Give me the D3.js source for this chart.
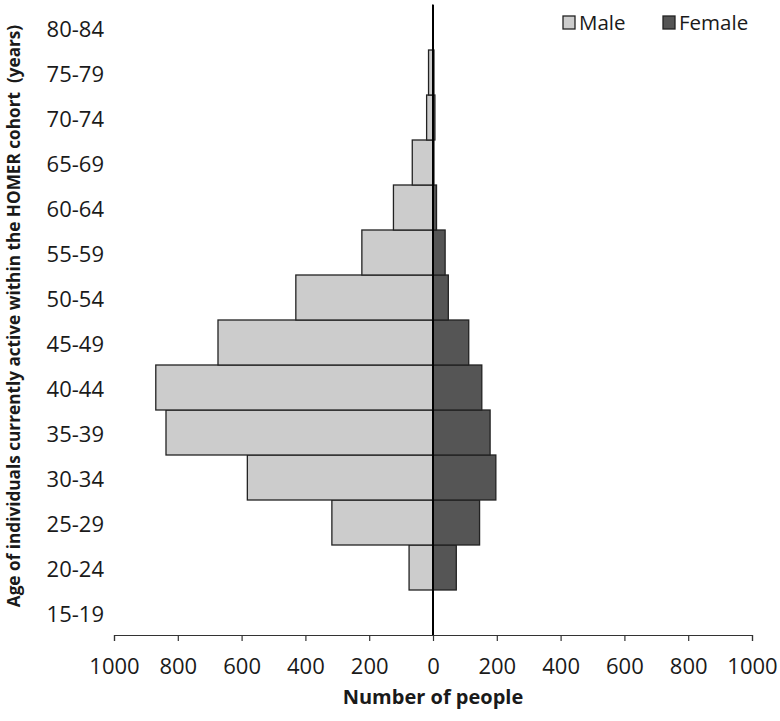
<!DOCTYPE html>
<html><head><meta charset="utf-8">
<script src="https://cdn.jsdelivr.net/npm/d3@7"></script>
<style>body{margin:0;background:#fff}svg{display:block}</style>
</head><body>
<svg id="c" width="780" height="721"></svg>
<script>
const ageGroups = ["15-19","20-24","25-29","30-34","35-39","40-44","45-49","50-54","55-59","60-64","65-69","70-74","75-79","80-84"];
const maleValues = [0,75,317,582,837,869,674,430,223,124,65,20,14,1];
const femaleValues = [0,73,146,197,179,153,112,48,38,11,3,6,3,0];
const xTicks = [-1000,-800,-600,-400,-200,0,200,400,600,800,1000];
const seriesNames = ["Male","Female"];
const seriesColors = ["#cccccc","#555555"];

const svg = d3.select("#c");
const font = "'Open Sans', sans-serif";
const x = d3.scaleLinear().domain([-1000,1000]).range([114,752]);
const y = d3.scaleBand().domain(ageGroups.slice().reverse()).range([5,635]).padding(0);

const data = ageGroups.map((g,i)=>({g, m:maleValues[i], f:femaleValues[i]}));

// bars
svg.append("g").selectAll("rect").data(data).join("rect")
  .attr("x", d=>x(-d.m)).attr("y", d=>y(d.g))
  .attr("width", d=>x(0)-x(-d.m)).attr("height", y.bandwidth())
  .attr("fill", seriesColors[0]).attr("stroke","#222").attr("stroke-width",1.3);
svg.append("g").selectAll("rect").data(data).join("rect")
  .attr("x", x(0)).attr("y", d=>y(d.g))
  .attr("width", d=>x(d.f)-x(0)).attr("height", y.bandwidth())
  .attr("fill", seriesColors[1]).attr("stroke","#222").attr("stroke-width",1.3);

// x axis
const xa = svg.append("g").attr("transform","translate(0,635)")
  .call(d3.axisBottom(x).tickValues(xTicks).tickFormat(d=>Math.abs(d)).tickSizeInner(6).tickSizeOuter(6));
xa.select(".domain").attr("stroke","#333").attr("stroke-width",1.2);
xa.selectAll(".tick line").attr("stroke","#333").attr("stroke-width",1.2);
xa.selectAll(".tick text").attr("font-family",font).attr("font-size",22).attr("fill","#1a1a1a").attr("dy","1.36em");

// zero line
svg.append("line").attr("x1",x(0)).attr("x2",x(0)).attr("y1",5).attr("y2",635)
  .attr("stroke","#000").attr("stroke-width",2);

// y labels
svg.append("g").selectAll("text").data(ageGroups).join("text")
  .attr("x",104).attr("y",d=>y(d)+y.bandwidth()/2).attr("dy","0.45em")
  .attr("text-anchor","end").attr("font-family",font).attr("font-size",22).attr("fill","#1a1a1a")
  .text(d=>d);

// axis titles
svg.append("text").attr("x",x(0)).attr("y",704).attr("text-anchor","middle")
  .attr("font-family",font).attr("font-size",20).attr("font-weight","bold").attr("fill","#1a1a1a")
  .text("Number of people");
svg.append("text").attr("transform","translate(20,316) rotate(-90)").attr("text-anchor","middle")
  .attr("font-family",font).attr("font-size",17.2).attr("font-weight","bold").attr("fill","#1a1a1a")
  .attr("xml:space","preserve").style("white-space","pre")
  .text("Age of individuals currently active within the HOMER cohort  (years)");

// legend
const lg = svg.append("g");
const lx = [563, 663];
seriesNames.forEach((n,i)=>{
  lg.append("rect").attr("x",lx[i]).attr("y",16).attr("width",12).attr("height",13)
    .attr("fill",seriesColors[i]).attr("stroke","#222").attr("stroke-width",1.3);
  lg.append("text").attr("x",lx[i]+16).attr("y",23).attr("dy","0.35em")
    .attr("font-family",font).attr("font-size",20.5).attr("fill","#1a1a1a").text(n);
});
</script>
</body></html>
